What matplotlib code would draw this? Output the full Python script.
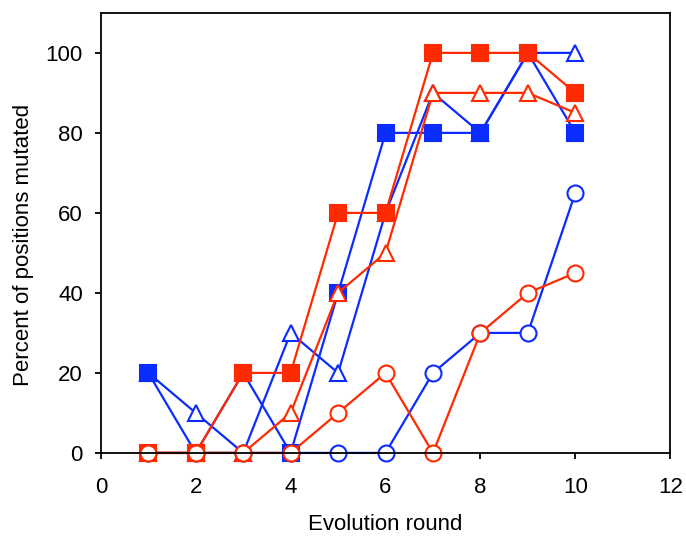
import numpy as np
import matplotlib
matplotlib.use("Agg")
import matplotlib.pyplot as plt

plt.rcParams['font.family'] = ['Liberation Sans', 'DejaVu Sans']

rounds = [1, 2, 3, 4, 5, 6, 7, 8, 9, 10]

# blue series
blue_sq = [20, 0, 20, 0, 40, 80, 80, 80, 100, 80]
blue_tri = [20, 10, 0, 30, 20, 60, 90, 80, 100, 100]
blue_circ = [0, 0, 0, 0, 0, 0, 20, 30, 30, 65]

# red series
red_sq = [0, 0, 20, 20, 60, 60, 100, 100, 100, 90]
red_tri = [0, 0, 0, 10, 40, 50, 90, 90, 90, 85]
red_circ = [0, 0, 0, 0, 10, 20, 0, 30, 40, 45]

blue = '#0a2cff'
red = '#ff2a00'

fig = plt.figure(figsize=(6.86, 5.36), dpi=100)
ax = fig.add_axes([0.147, 0.155, 0.83, 0.821])

def series(y, color, marker, filled):
    ax.plot(rounds, y, color=color, lw=1.6, marker=marker, ms=12 if marker != 'o' else 11.5,
            markerfacecolor=color if filled else 'white', markeredgecolor=color,
            markeredgewidth=1.5, clip_on=False)

# draw order matters for overlapping markers
series(blue_tri, blue, '^', False)
series(blue_sq, blue, 's', True)
series(blue_circ, blue, 'o', False)
series(red_sq, red, 's', True)
series(red_tri, red, '^', False)
series(red_circ, red, 'o', False)

ax.set_xlim(0, 12)
ax.set_ylim(0, 110)
ax.set_xticks(range(0, 13, 2))
ax.set_yticks(range(0, 101, 20))
ax.tick_params(direction='out', length=4, width=1.3, labelsize=16)
ax.tick_params(axis='x', pad=13)
ax.tick_params(axis='y', pad=9)
for s in ax.spines.values():
    s.set_linewidth(1.3)
ax.set_xlabel('Evolution round', fontsize=16, labelpad=12)
ax.set_ylabel('Percent of positions mutated', fontsize=16)
ax.yaxis.set_label_coords(-0.117, 0.473)

fig.savefig('out.png', dpi=100)
